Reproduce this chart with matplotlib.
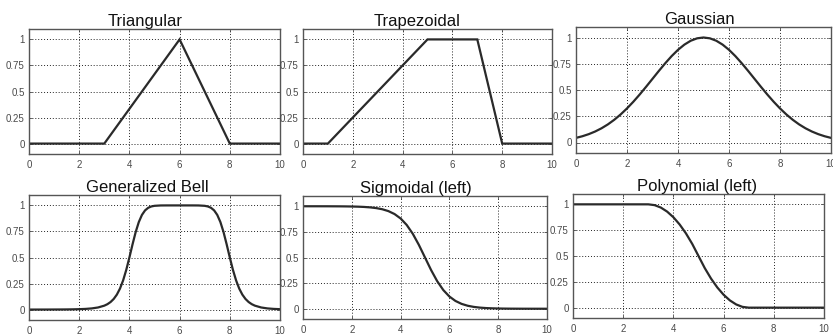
import matplotlib
matplotlib.use("Agg")
import matplotlib.pyplot as plt

plt.rcParams['font.family'] = ['Liberation Sans', 'DejaVu Sans']

titles = ["Triangular", "Trapezoidal", "Gaussian",
          "Generalized Bell", "Sigmoidal (left)", "Polynomial (left)"]

x_grid = [i * 0.25 for i in range(41)]

tri_x = [0, 3, 6, 8, 10]
tri_y = [0, 0, 1, 0, 0]

trap_x = [0, 1, 5, 7, 8, 10]
trap_y = [0, 0, 1, 1, 0, 0]

gauss_y = [0.0439, 0.0596, 0.0796, 0.1046, 0.1353, 0.1724, 0.2163, 0.2671,
           0.3247, 0.3886, 0.4578, 0.5311, 0.6065, 0.6819, 0.7548, 0.8226,
           0.8825, 0.9321, 0.9692, 0.9922, 1.0,
           0.9922, 0.9692, 0.9321, 0.8825, 0.8226, 0.7548, 0.6819, 0.6065,
           0.5311, 0.4578, 0.3886, 0.3247, 0.2671, 0.2163, 0.1724, 0.1353,
           0.1046, 0.0796, 0.0596, 0.0439]

bell_x = [0, 0.25, 0.5, 0.75, 1, 1.25, 1.5, 1.75, 2, 2.25, 2.5, 2.75,
          3, 3.125, 3.25, 3.375, 3.5, 3.625, 3.75, 3.875, 4, 4.125, 4.25,
          4.375, 4.5, 4.625, 4.75, 4.875, 5,
          5.25, 5.5, 5.75, 6, 6.25, 6.5, 6.75,
          7, 7.125, 7.25, 7.375, 7.5, 7.625, 7.75, 7.875, 8, 8.125, 8.25,
          8.375, 8.5, 8.625, 8.75, 8.875, 9,
          9.25, 9.5, 9.75, 10]
bell_y = [0.0002, 0.0002, 0.0003, 0.0004, 0.0007, 0.0010, 0.0015, 0.0024,
          0.0039, 0.0065, 0.0112, 0.0202,
          0.0376, 0.0520, 0.0726, 0.1020, 0.1437, 0.2018, 0.2804, 0.3811,
          0.5, 0.6263, 0.7443, 0.8404, 0.9090, 0.9525, 0.9773, 0.9901, 0.9961,
          0.9996, 1.0, 1.0, 1.0, 1.0, 1.0, 0.9996,
          0.9961, 0.9901, 0.9773, 0.9525, 0.9090, 0.8404, 0.7443, 0.6263,
          0.5, 0.3811, 0.2804, 0.2018, 0.1437, 0.1020, 0.0726, 0.0520, 0.0376,
          0.0202, 0.0112, 0.0065, 0.0039]

sig_y = [1.0, 0.9999, 0.9999, 0.9998, 0.9997, 0.9994, 0.9991, 0.9985,
         0.9975, 0.9959, 0.9933, 0.9890, 0.9820, 0.9707, 0.9526, 0.9241,
         0.8808, 0.8176, 0.7311, 0.6225, 0.5, 0.3775, 0.2689, 0.1824,
         0.1192, 0.0759, 0.0474, 0.0293, 0.0180, 0.0110, 0.0067, 0.0041,
         0.0025, 0.0015, 0.0009, 0.0006, 0.0003, 0.0002, 0.0001, 0.0001, 0.0]

poly_y = [1.0, 1.0, 1.0, 1.0, 1.0, 1.0, 1.0, 1.0, 1.0, 1.0, 1.0, 1.0, 1.0,
          0.9922, 0.9688, 0.9297, 0.875, 0.8047, 0.7188, 0.6172, 0.5,
          0.3828, 0.2813, 0.1953, 0.125, 0.0703, 0.0313, 0.0078, 0.0,
          0.0, 0.0, 0.0, 0.0, 0.0, 0.0, 0.0, 0.0, 0.0, 0.0, 0.0, 0.0]

series = [(tri_x, tri_y), (trap_x, trap_y), (x_grid, gauss_y),
          (bell_x, bell_y), (x_grid, sig_y), (x_grid, poly_y)]

xticks = [0, 2, 4, 6, 8, 10]
yticks = [0, 0.25, 0.5, 0.75, 1]
ytick_labels = ["0", "0.25", "0.5", "0.75", "1"]

W, H = 833, 334
boxes = [(29, 280, 29, 154), (303, 552, 29, 154), (576, 831, 27, 153),
         (29, 280, 195, 320), (303, 547, 196, 319), (573, 824, 194, 318)]
title_x = [0.462, 0.458, 0.486, 0.472, 0.463, 0.494]

fig = plt.figure(figsize=(W / 100, H / 100), dpi=100)
for (l, r, t, b), title, (xs, ys), tx in zip(boxes, titles, series, title_x):
    ax = fig.add_axes([l / W, 1 - b / H, (r - l) / W, (b - t) / H])
    ax.plot(xs, ys, color='#2a2a2a', lw=1.6, solid_joinstyle='miter')
    ax.set_xlim(0, 10)
    ax.set_ylim(-0.1, 1.1)
    ax.set_xticks(xticks)
    ax.set_yticks(yticks)
    ax.set_yticklabels(ytick_labels)
    ax.grid(True, color='#222222', linestyle=(0, (1, 2)), lw=0.7)
    ax.tick_params(direction='in', length=2, width=0.6, colors='#4a4a4a',
                   labelsize=7, pad=3, top=True, right=True)
    ax.tick_params(axis='x', pad=4)
    for sp in ax.spines.values():
        sp.set_color('#555555')
        sp.set_linewidth(1.0)
    ax.set_title(title, fontsize=12, pad=2, color='#111111', x=tx)

fig.savefig("out.png", dpi=100)
